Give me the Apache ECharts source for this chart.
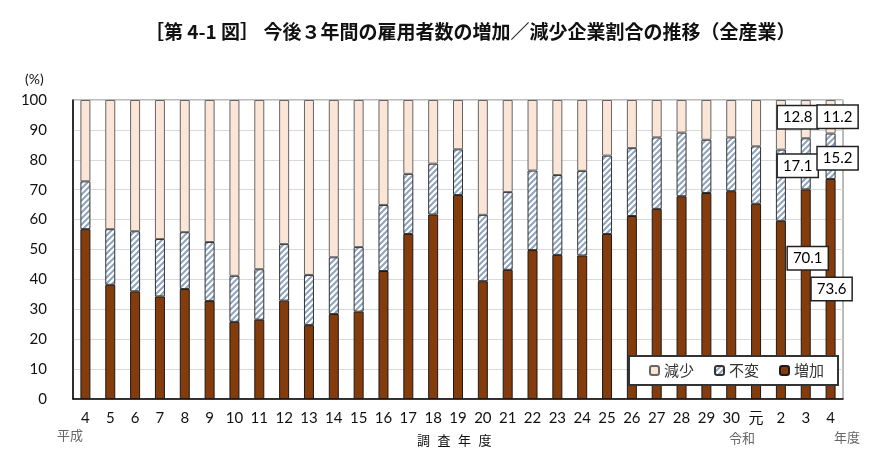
<!DOCTYPE html>
<html><head><meta charset="utf-8">
<script src="https://cdn.jsdelivr.net/npm/echarts@6/dist/echarts.min.js"></script>
<style>html,body{margin:0;padding:0;background:#fff}#c{width:880px;height:466px}</style>
</head><body><div id="c"></div>
<script>
const categories = ['4','5','6','7','8','9','10','11','12','13','14','15','16','17','18','19','20','21','22','23','24','25','26','27','28','29','30','元','2','3','4'];
const increase = [56.8,38.2,36.0,34.3,36.8,32.8,25.8,26.5,32.9,24.7,28.4,29.2,42.8,55.2,61.7,68.2,39.4,43.2,49.8,48.2,48.0,55.2,61.2,63.6,67.8,68.9,69.5,65.3,59.6,70.1,73.6];
const unchanged = [16.0,18.6,20.1,19.2,19.0,19.7,15.4,16.9,18.9,16.8,19.0,21.6,22.1,20.1,17.0,15.3,22.2,26.0,26.6,26.7,28.3,26.2,22.7,23.9,21.3,17.8,18.0,19.2,23.8,17.1,15.2];
const decrease = [27.2,43.2,43.9,46.5,44.2,47.5,58.8,56.6,48.2,58.5,52.6,49.2,35.1,24.7,21.3,16.5,38.4,30.8,23.6,25.1,23.7,18.6,16.1,12.5,10.9,13.3,12.5,15.5,16.6,12.8,11.2];
const seriesNames = ['減少','不変','増加'];
const yTicks = [0,10,20,30,40,50,60,70,80,90,100];

function hatch(){
  const c = document.createElement('canvas');
  c.width = 6; c.height = 6;
  const g = c.getContext('2d');
  g.fillStyle = '#ffffff'; g.fillRect(0,0,6,6);
  g.strokeStyle = '#8DA3BF'; g.lineWidth = 2;
  g.beginPath();
  g.moveTo(-1,7); g.lineTo(7,-1);
  g.moveTo(-4,4); g.lineTo(4,-4);
  g.moveTo(2,10); g.lineTo(10,2);
  g.stroke();
  return c;
}
const labelBase = {show:true, fontFamily:'Lato, Liberation Sans, sans-serif', fontSize:15, color:'#000',
  backgroundColor:'#fff', borderColor:'#222', borderWidth:1.5, padding:[4,5,3,5], position:'inside'};
const labelOffsets = {
  '増加': {29:[2,-36], 30:[1,0]},
  '不変': {29:[-8,2], 30:[7,2]},
  '減少': {29:[-8,-2], 30:[7,0]}
};
function mk(name, vals){
  return vals.map((v,i)=>{
    const off = labelOffsets[name][i];
    if(off) return {value:v, label:Object.assign({}, labelBase, {offset:off, formatter:v.toFixed(1)})};
    return v;
  });
}
const chart = echarts.init(document.getElementById('c'), null, {renderer:'canvas'});
const hatchPat = {image: hatch(), repeat:'repeat'};
const axisTitleChars = ['調','査','年','度'];
chart.setOption({
  animation:false,
  title:{text:'［第 4-1 図］ 今後３年間の雇用者数の増加／減少企業割合の推移（全産業）', left:140, top:17,
    textStyle:{fontFamily:'Noto Sans CJK JP', fontSize:19, fontWeight:'bold', color:'#111'}},
  legend:{data:seriesNames, left:629, top:356, width:204, height:28, padding:[7,14,7,20],
    backgroundColor:'#fff', borderColor:'#333', borderWidth:2, itemWidth:9, itemHeight:9, itemGap:20,
    textStyle:{fontFamily:'Noto Sans CJK JP', fontSize:15, color:'#333'}},
  grid:{left:73, right:37, top:100, bottom:67, show:true, borderColor:'#777', borderWidth:1},
  xAxis:{type:'category', data:categories, axisLine:{lineStyle:{color:'#000', width:1.5}}, axisTick:{show:false},
    axisLabel:{fontFamily:'Lato, Noto Sans CJK JP, sans-serif', fontSize:15, color:'#111', margin:12, interval:0}},
  yAxis:{type:'value', min:0, max:100, interval:10, axisLine:{show:true, lineStyle:{color:'#000', width:1.5}},
    axisTick:{show:false}, splitLine:{lineStyle:{color:'#D9D9D9'}},
    axisLabel:{fontFamily:'Lato, sans-serif', fontSize:15, color:'#111', margin:26,
      formatter:(v)=> yTicks.includes(v) ? String(v) : ''}},
  series:[
    {name:'増加', type:'bar', stack:'a', barWidth:10, data:mk('増加', increase),
      itemStyle:{color:'#843C0C', borderColor:'#1a1a1a', borderWidth:1}},
    {name:'不変', type:'bar', stack:'a', barWidth:10, data:mk('不変', unchanged),
      itemStyle:{color:hatchPat, borderColor:'#333', borderWidth:1}},
    {name:'減少', type:'bar', stack:'a', barWidth:10, data:mk('減少', decrease),
      itemStyle:{color:'#FBE5D6', borderColor:'#666', borderWidth:1}}
  ],
  graphic:[
    {type:'text', left:25, top:72, style:{text:'(%)', font:'14px Lato, sans-serif', fill:'#111'}},
    {type:'text', left:57, top:429, style:{text:'平成', font:'13px "Noto Sans CJK JP"', fill:'#666'}},
    {type:'text', left:729, top:432, style:{text:'令和', font:'13px "Noto Sans CJK JP"', fill:'#666'}},
    {type:'text', left:834, top:431, style:{text:'年度', font:'13px "Noto Sans CJK JP"', fill:'#666'}}
  ].concat(axisTitleChars.map((ch,i)=>({type:'text', left:417+i*20.5, top:434,
    style:{text:ch, font:'13px "Noto Sans CJK JP"', fill:'#111'}})))
});
</script></body></html>
